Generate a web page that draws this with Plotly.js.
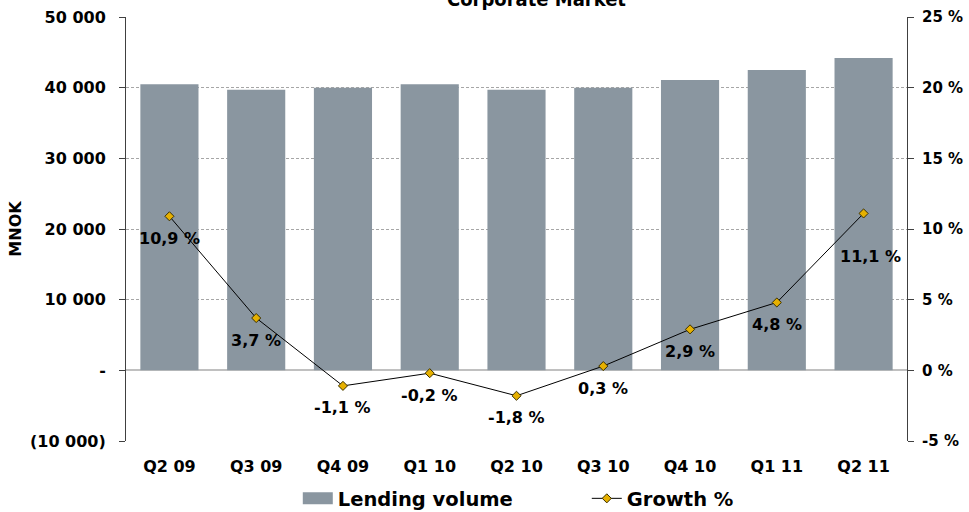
<!DOCTYPE html>
<html>
<head>
<meta charset="utf-8">
<script src="https://cdn.plot.ly/plotly-3.0.1.min.js"></script>
<style>
  html, body { margin: 0; padding: 0; background: #ffffff; }
  #chart { width: 969px; height: 512px; }
</style>
</head>
<body>
<div id="chart"></div>
<script>
// Quarterly categories
const quarters = ["Q2 09", "Q3 09", "Q4 09", "Q1 10", "Q2 10", "Q3 10", "Q4 10", "Q1 11", "Q2 11"];

// Lending volume, MNOK
const lendingVolume = [40500, 39700, 40000, 40500, 39700, 40000, 41100, 42500, 44200];

// Growth, percent
const growthPct = [10.9, 3.7, -1.1, -0.2, -1.8, 0.3, 2.9, 4.8, 11.1];

// Axis ticks
const leftTickVals = [-10000, 0, 10000, 20000, 30000, 40000, 50000];
const leftTickText = ["(10 000)", "-", "10 000", "20 000", "30 000", "40 000", "50 000"];
const rightTickVals = [-5, 0, 5, 10, 15, 20, 25];
const rightTickText = ["-5 %", "0 %", "5 %", "10 %", "15 %", "20 %", "25 %"];

const FONT = "DejaVu Sans, Verdana, sans-serif";
const fmtPct = v => v.toFixed(1).replace(".", ",") + " %";

const bars = {
  type: "bar",
  name: "Lending volume",
  x: quarters,
  y: lendingVolume,
  marker: { color: "#8a96a0" },
  yaxis: "y",
  hoverinfo: "x+y"
};

const growth = {
  type: "scatter",
  mode: "lines+markers",
  name: "Growth %",
  x: quarters,
  y: growthPct,
  yaxis: "y2",
  line: { color: "#000000", width: 1 },
  marker: { symbol: "diamond", size: 7, color: "#e6b000", line: { color: "#3a3000", width: 1 } },
  cliponaxis: false
};

// Value labels under each growth point; the last one sits a little lower and to the right
const labelAnnotations = growthPct.map((v, i) => {
  const last = i === growthPct.length - 1;
  return {
    x: quarters[i], y: v,
    xref: "x", yref: "y2",
    text: fmtPct(v),
    showarrow: false,
    xanchor: "center", yanchor: "middle",
    xshift: last ? 7 : 0,
    yshift: last ? -43 : -22,
    font: { family: FONT, size: 16, color: "#000000", weight: "bold" }
  };
});

const layout = {
  width: 969,
  height: 512,
  margin: { l: 126, r: 62, t: 17, b: 71, autoexpand: false },
  paper_bgcolor: "#ffffff",
  plot_bgcolor: "#ffffff",
  font: { family: FONT, size: 16, color: "#000000", weight: "bold" },
  bargap: 0.33,
  showlegend: true,
  legend: {
    orientation: "h",
    x: 0.59, xanchor: "center",
    y: -0.09, yanchor: "top",
    font: { family: FONT, size: 19.5, color: "#000000", weight: "bold" },
    entrywidth: 244,
    traceorder: "normal"
  },
  xaxis: {
    type: "category",
    showgrid: false,
    showline: false,
    ticks: "",
    ticklabelstandoff: 14,
    tickfont: { family: FONT, size: 16, weight: "bold" },
    fixedrange: true
  },
  yaxis: {
    range: [-10000, 50000],
    tickvals: leftTickVals,
    ticktext: leftTickText,
    ticks: "outside",
    ticklen: 6,
    tickcolor: "#404040",
    ticklabelstandoff: 10,
    showline: true,
    linecolor: "#404040",
    linewidth: 1,
    showgrid: true,
    gridcolor: "#a6a6a6",
    griddash: "3px,2px",
    gridwidth: 1,
    zeroline: true,
    zerolinecolor: "#c0c0c0",
    zerolinewidth: 2,
    tickfont: { family: FONT, size: 16, weight: "bold" },
    title: { text: "MNOK", font: { family: FONT, size: 16, weight: "bold" }, standoff: 4 },
    fixedrange: true
  },
  yaxis2: {
    overlaying: "y",
    side: "right",
    range: [-5, 25],
    tickvals: rightTickVals,
    ticktext: rightTickText,
    ticks: "outside",
    ticklen: 6,
    tickcolor: "#404040",
    ticklabelstandoff: 5,
    showline: true,
    linecolor: "#404040",
    linewidth: 1,
    showgrid: false,
    zeroline: false,
    tickfont: { family: FONT, size: 15, weight: "bold" },
    fixedrange: true
  },
  annotations: [{
    text: "Corporate Market",
    xref: "paper", yref: "paper",
    x: 0.525, y: 1,
    xanchor: "center", yanchor: "bottom",
    yshift: 4,
    showarrow: false,
    font: { family: "DejaVu Sans Condensed, DejaVu Sans, sans-serif", size: 20, weight: "bold", color: "#000000" }
  }].concat(labelAnnotations)
};

Plotly.newPlot("chart", [bars, growth], layout, { displayModeBar: false, staticPlot: true })
  .then(gd => {
    // Widen the bar swatch in the legend into a flat rectangle
    const swatch = gd.querySelector(".legend .traces .legendpoints path");
    if (swatch) swatch.setAttribute("d", "M15,6H-15V-6H15Z");
  });
</script>
</body>
</html>
